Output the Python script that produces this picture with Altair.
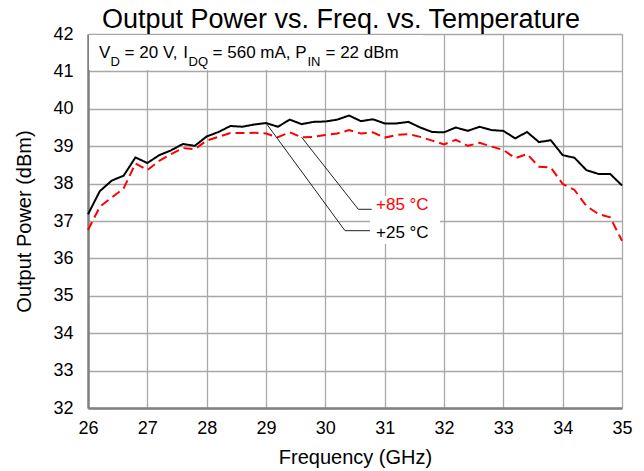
import altair as alt
import pandas as pd

# ---------------- data ----------------
freq = [26.0, 26.2, 26.4, 26.6, 26.8, 27.0, 27.2, 27.4, 27.6, 27.8,
        28.0, 28.2, 28.4, 28.6, 28.8, 29.0, 29.2, 29.4, 29.6, 29.8,
        30.0, 30.2, 30.4, 30.6, 30.8, 31.0, 31.2, 31.4, 31.6, 31.8,
        32.0, 32.2, 32.4, 32.6, 32.8, 33.0, 33.2, 33.4, 33.6, 33.8,
        34.0, 34.2, 34.4, 34.6, 34.8, 35.0]

pout_25c = [37.18, 37.80, 38.08, 38.21, 38.70, 38.55, 38.76, 38.89, 39.06, 39.01,
            39.26, 39.38, 39.54, 39.52, 39.58, 39.62, 39.52, 39.71, 39.59, 39.65,
            39.66, 39.71, 39.82, 39.67, 39.72, 39.61, 39.61, 39.65, 39.50, 39.38,
            39.37, 39.50, 39.41, 39.52, 39.43, 39.41, 39.21, 39.38, 39.11, 39.16,
            38.76, 38.69, 38.36, 38.26, 38.26, 37.95]

pout_85c = [36.76, 37.38, 37.63, 37.87, 38.54, 38.36, 38.61, 38.79, 38.95, 38.92,
            39.15, 39.25, 39.35, 39.35, 39.36, 39.34, 39.24, 39.37, 39.24, 39.25,
            39.30, 39.34, 39.43, 39.34, 39.37, 39.23, 39.30, 39.32, 39.25, 39.15,
            39.05, 39.17, 39.01, 39.09, 38.99, 38.90, 38.68, 38.79, 38.45, 38.43,
            37.99, 37.83, 37.40, 37.19, 37.10, 36.47]

series_names = ["+25 °C", "+85 °C"]
x_ticks = [26, 27, 28, 29, 30, 31, 32, 33, 34, 35]
y_ticks = [32, 33, 34, 35, 36, 37, 38, 39, 40, 41, 42]

chart_title = "Output Power vs. Freq. vs. Temperature"
x_title = "Frequency (GHz)"
y_title = "Output Power (dBm)"

# ---------------- layout / style ----------------
W, H = 534, 374
FONT = "Liberation Sans"
RED = "#ff0000"

df = pd.DataFrame({
    "f": freq + freq,
    "p": pout_25c + pout_85c,
    "s": [series_names[0]] * len(freq) + [series_names[1]] * len(freq),
})

xs = alt.Scale(domain=[x_ticks[0], x_ticks[-1]], nice=False, zero=False)
ys = alt.Scale(domain=[y_ticks[0], y_ticks[-1]], nice=False, zero=False)

common_axis = dict(grid=True, ticks=False, format="d", labelOverlap=False, labelFlush=False,
                   labelFontSize=18, labelFont=FONT, labelColor="black",
                   titleFontSize=20, titleFont=FONT, titleFontWeight="normal", titleColor="black",
                   titleBaseline="alphabetic",
                   domainColor="#808080", domainWidth=2.5,
                   gridColor="#a8a8a8", gridWidth=1.3)

x_axis = alt.Axis(values=x_ticks, tickCount=len(x_ticks), labelPadding=11, title=x_title, titleY=55, **common_axis)
y_axis = alt.Axis(values=y_ticks, tickCount=len(y_ticks), labelPadding=15, title=y_title, titleX=-58, **common_axis)

X = lambda: alt.X("f:Q", scale=xs, axis=x_axis)
Y = lambda: alt.Y("p:Q", scale=ys, axis=y_axis)

lines = alt.Chart(df).mark_line(strokeWidth=2).encode(
    x=X(), y=Y(),
    color=alt.Color("s:N", scale=alt.Scale(domain=series_names, range=["black", RED]), legend=None),
    strokeDash=alt.StrokeDash("s:N", scale=alt.Scale(domain=series_names, range=[[1, 0], [9, 5]]), legend=None),
    detail="s:N",
)

one = alt.Data(values=[{}])

# white boxes behind the annotation texts
info_box = alt.Chart(one).mark_rect(fill="white").encode(
    x=alt.value(1), x2=alt.value(335), y=alt.value(1), y2=alt.value(36))
label_box = alt.Chart(one).mark_rect(fill="white").encode(
    x=alt.value(282), x2=alt.value(352), y=alt.value(162), y2=alt.value(210))

# leader lines (start on the curves)
i85 = freq.index(29.6)
i25 = freq.index(29.0)
leaders = pd.DataFrame({
    "f": [freq[i85], 30.556, 30.781, freq[i25], 30.331, 30.753],
    "p": [pout_85c[i85], 37.313, 37.313, pout_25c[i25], 36.741, 36.741],
    "g": ["a", "a", "a", "b", "b", "b"],
    "o": [0, 1, 2, 0, 1, 2],
})
leader_lines = alt.Chart(leaders).mark_line(color="#222222", strokeWidth=1).encode(
    x=X(), y=Y(), detail="g:N", order="o:Q")

lab = pd.DataFrame({"f": [30.854, 30.854], "p": [37.428, 36.687], "t": [series_names[1], series_names[0]],
                    "s": [series_names[1], series_names[0]]})
labels = alt.Chart(lab).mark_text(align="left", baseline="middle", font=FONT, fontSize=17).encode(
    x=X(), y=Y(), text="t:N",
    color=alt.Color("s:N", scale=alt.Scale(domain=series_names, range=["black", RED]), legend=None))

# condition text with subscripts
pieces = [
    # text, x, y, size, align
    ("V", 11.0, 24, 17, "left"),
    ("D", 22.5, 31.5, 13, "left"),
    ("= 20 V,", 36.6, 24, 17, "left"),
    ("I", 100.0, 24, 17, "right"),
    ("DQ", 100.6, 31.5, 13, "left"),
    ("= 560 mA,", 124.6, 24, 17, "left"),
    ("P", 218.5, 24, 17, "right"),
    ("IN", 219.5, 31.5, 13, "left"),
    ("= 22 dBm", 237.5, 24, 17, "left"),
]
info_layers = []
for txt, px, py, fs, al in pieces:
    info_layers.append(
        alt.Chart(one).mark_text(align=al, baseline="alphabetic", font=FONT, fontSize=fs, color="black")
        .encode(x=alt.value(px), y=alt.value(py), text=alt.value(txt))
    )

title_mark = alt.Chart(one).mark_text(align="center", baseline="alphabetic", font=FONT,
                                      fontSize=27, color="black").encode(
    x=alt.value(W / 2 - 14), y=alt.value(-6), text=alt.value(chart_title))

chart = alt.layer(lines, info_box, label_box, leader_lines, labels, title_mark, *info_layers).properties(
    width=W, height=H,
    autosize=alt.AutoSizeParams(type="none"),
    padding={"left": 80, "top": 26, "right": 14, "bottom": 62},
).configure_view(stroke="black", strokeWidth=2).configure(background="white")

chart.save("out.html", embed_options={"renderer": "svg", "actions": False})
